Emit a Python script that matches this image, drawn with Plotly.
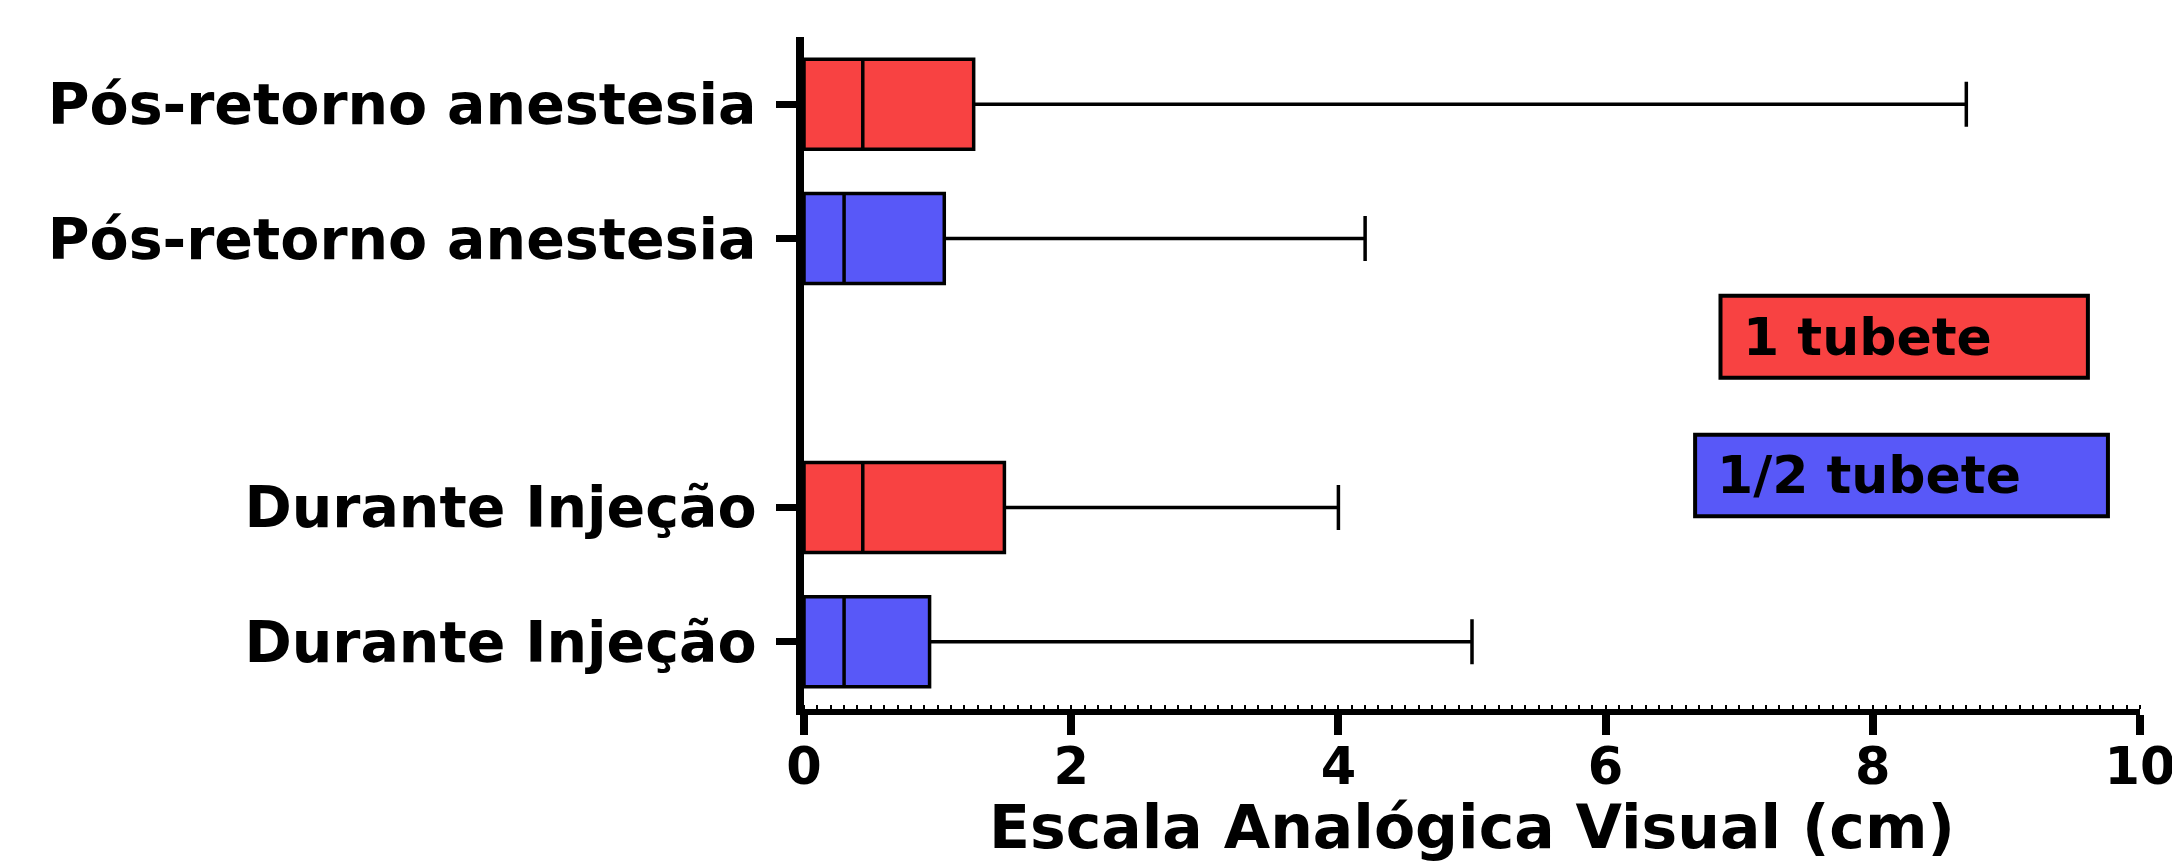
import plotly.graph_objects as go

# ---- data ----
categories = ["Durante Injeção", "Durante Injeção", "Pós-retorno anestesia", "Pós-retorno anestesia"]
positions = [0, 1, 3, 4]
groups = ["1/2 tubete", "1 tubete", "1/2 tubete", "1 tubete"]
q1_vals = [0.0, 0.0, 0.0, 0.0]
median_vals = [0.30, 0.44, 0.30, 0.44]
q3_vals = [0.94, 1.50, 1.05, 1.27]
low_vals = [0.0, 0.0, 0.0, 0.0]
high_vals = [5.0, 4.0, 4.2, 8.7]
x_ticks = [0, 2, 4, 6, 8, 10]
x_title = "Escala Analógica Visual (cm)"

group_colors = {"1 tubete": "#F84242", "1/2 tubete": "#5858F8"}
FONT = "DejaVu Sans"

fig = go.Figure()
for i in range(len(categories)):
    fig.add_trace(go.Box(
        orientation="h",
        y=[positions[i]],
        q1=[q1_vals[i]], median=[median_vals[i]], q3=[q3_vals[i]],
        lowerfence=[low_vals[i]], upperfence=[high_vals[i]],
        fillcolor=group_colors[groups[i]],
        line=dict(color="black", width=3.5),
        width=0.67,
        whiskerwidth=0.5,
        boxpoints=False,
        showlegend=False,
        name=groups[i],
        hoverinfo="skip",
    ))

# legend boxes drawn as shapes with text
legend_items = [
    ("1 tubete", 0.686, 0.961, 0.493, 0.615, 0.701),
    ("1/2 tubete", 0.667, 0.976, 0.287, 0.408, 0.682),
]
for label, x0, x1, y0, y1, tx in legend_items:
    fig.add_shape(type="rect", xref="paper", yref="paper", x0=x0, x1=x1, y0=y0, y1=y1,
                  fillcolor=group_colors[label], line=dict(color="black", width=4))
    fig.add_annotation(xref="paper", yref="paper", x=tx, y=(y0 + y1) / 2, text=label,
                       showarrow=False, xanchor="left", yanchor="middle",
                       font=dict(family=FONT, size=52, color="black", weight="bold"))

# x-axis title
fig.add_annotation(xref="paper", yref="paper", x=0.5, y=-0.231, text=x_title,
                   showarrow=False, xanchor="center", yanchor="bottom",
                   font=dict(family=FONT, size=60, color="black", weight="bold"))

fig.update_layout(
    width=2172, height=855,
    margin=dict(l=796, r=40, t=29, b=154),
    paper_bgcolor="white", plot_bgcolor="white",
    font=dict(family=FONT, color="black", weight="bold"),
)
fig.update_xaxes(
    range=[0, 10], tickvals=x_ticks, ticktext=[str(v) for v in x_ticks],
    automargin=False,
    showgrid=False, zeroline=False,
    showline=True, linecolor="black", linewidth=6,
    ticks="outside", ticklen=20, tickwidth=8, tickcolor="black",
    ticklabelstandoff=-12,
    tickfont=dict(family=FONT, size=51, color="black", weight="bold"),
    minor=dict(ticks="inside", dtick=0.1, ticklen=4, tickwidth=1.5, tickcolor="black"),
)
fig.update_yaxes(
    range=[-0.5, 4.5], tickvals=positions, ticktext=categories,
    automargin=False,
    showgrid=False, zeroline=False,
    showline=True, linecolor="black", linewidth=8,
    ticks="outside", ticklen=20, tickwidth=7, tickcolor="black",
    ticklabelstandoff=8,
    tickfont=dict(family=FONT, size=57, color="black", weight="bold"),
)

fig.write_html("out.html")
